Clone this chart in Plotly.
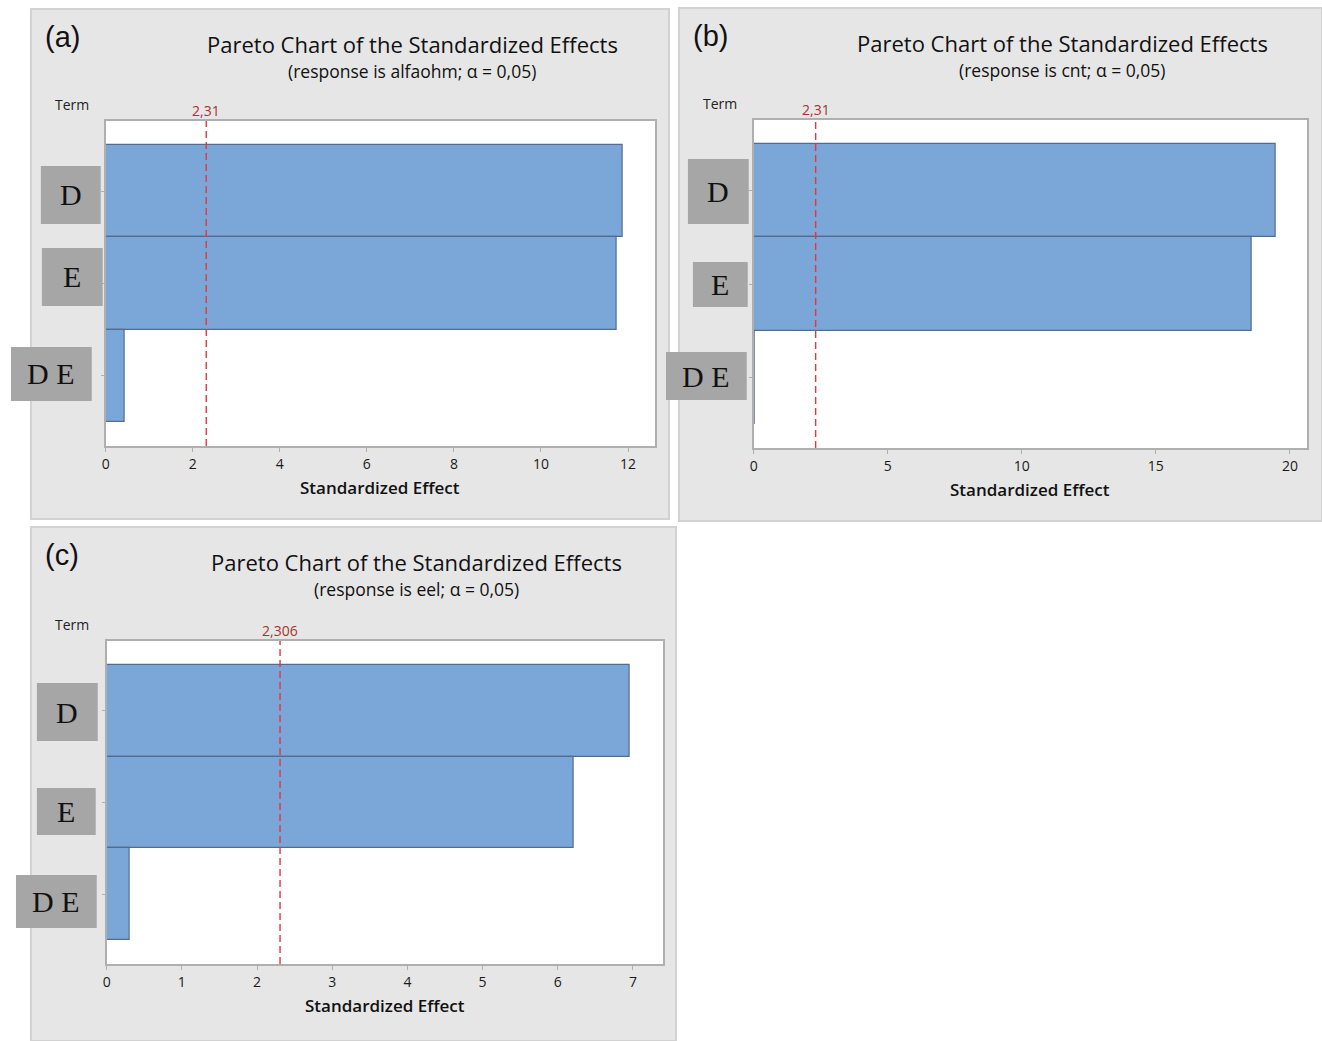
import plotly.graph_objects as go

# ---- data -------------------------------------------------------------
terms = ["D", "E", "D E"]
effects_alfaohm = [11.88, 11.74, 0.43]
effects_cnt = [19.46, 18.57, 0.05]
effects_eel = [6.96, 6.21, 0.30]
critical_values = [2.31, 2.31, 2.306]
critical_labels = ["2,31", "2,31", "2,306"]
responses = ["alfaohm", "cnt", "eel"]
panel_tags = ["(a)", "(b)", "(c)"]
x_max = [12.62, 20.64, 7.40]
x_dtick = [2, 5, 1]

# ---- page geometry (pixels) --------------------------------------------
W, H = 1322, 1041


def fx(x):
    return x / W


def fy(y):
    return 1 - y / H


# panel background boxes: x0, y0, x1, y1
panel_boxes = [(27, 9, 667, 519), (677, 8, 1322, 521), (27, 527, 674, 1041)]
# plot areas: x0, y0, x1, y1
plot_areas = [(102, 121, 653, 446), (752, 120, 1307, 448), (103, 641, 661, 964)]
# grey term-label tiles per panel: (x0, y0, x1, y1)
term_tiles = [
    [(37, 166, 97, 224), (38, 248, 99, 306), (7, 347, 88, 401)],
    [(686, 159, 747, 224), (691, 262, 746, 307), (664, 352, 745, 400)],
    [(33, 683, 94, 741), (33, 788, 92, 835), (12, 875, 93, 928)],
]

BAR_FILL = "#7BA6D8"
BAR_EDGE = "#536C8E"
PANEL_BG = "#E6E6E6"
PANEL_EDGE = "#D2D2D2"
FRAME = "#AFAFAF"
REF_LINE = "#E8353B"
REF_TEXT = "#A8322D"
UI_FONT = "Open Sans"

fig = go.Figure()
shapes = []
annotations = []

all_effects = [effects_alfaohm, effects_cnt, effects_eel]

for i in range(3):
    suffix = "" if i == 0 else str(i + 1)
    xa, ya = "x" + suffix, "y" + suffix
    bx0, by0, bx1, by1 = panel_boxes[i]
    px0, py0, px1, py1 = plot_areas[i]
    plot_mid = (px0 + px1) / 2
    title_mid = plot_mid + 32

    # panel background
    shapes.append(dict(type="rect", xref="paper", yref="paper",
                       x0=fx(bx0), x1=fx(bx1), y0=fy(by1), y1=fy(by0),
                       fillcolor=PANEL_BG, line=dict(color=PANEL_EDGE, width=2),
                       layer="below"))
    # white plotting area
    shapes.append(dict(type="rect", xref=xa + " domain", yref=ya + " domain",
                       x0=0, x1=1, y0=0, y1=1, fillcolor="white",
                       line=dict(width=0), layer="below"))

    fig.add_trace(go.Bar(
        x=all_effects[i], y=terms, orientation="h", width=1,
        marker=dict(color=BAR_FILL, line=dict(color=BAR_EDGE, width=1.2)),
        xaxis=xa, yaxis=ya, showlegend=False, hoverinfo="x+y",
    ))

    # critical value reference line
    crit = critical_values[i]
    shapes.append(dict(type="line", xref=xa, yref=ya + " domain",
                       x0=crit, x1=crit, y0=0, y1=1.0,
                       line=dict(color=REF_LINE, width=1.4, dash="7px,4px"),
                       layer="above"))
    annotations.append(dict(xref=xa, yref=ya + " domain", x=crit, y=1.0,
                            text=critical_labels[i], showarrow=False,
                            yanchor="bottom", yshift=-1,
                            font=dict(family=UI_FONT, size=14, color=REF_TEXT)))

    # axes
    layout_x = dict(domain=[fx(px0), fx(px1)], range=[0, x_max[i]],
                    tick0=0, dtick=x_dtick[i], showgrid=False, zeroline=False,
                    showline=True, mirror=True, linecolor=FRAME, linewidth=1.5,
                    ticks="outside", ticklen=4, tickcolor=FRAME,
                    tickfont=dict(family=UI_FONT, size=14, color="#1A1A1A"),
                    anchor=ya, fixedrange=True)
    layout_y = dict(domain=[fy(py1), fy(py0)], type="category",
                    categoryorder="array", categoryarray=terms,
                    range=[2.76, -0.76], showgrid=False, zeroline=False,
                    showline=True, mirror=True, linecolor=FRAME, linewidth=1.5,
                    ticks="outside", ticklen=3, tickcolor=FRAME,
                    showticklabels=False, anchor=xa, fixedrange=True)
    fig.update_layout(**{"xaxis" + suffix: layout_x, "yaxis" + suffix: layout_y})

    # titles
    annotations.append(dict(xref="paper", yref="paper", x=fx(title_mid),
                            y=fy(by0 + 35), text="Pareto Chart of the Standardized Effects",
                            showarrow=False, xanchor="center", yanchor="middle",
                            font=dict(family=UI_FONT, size=22, color="#111111",
                                      weight=500)))
    annotations.append(dict(xref="paper", yref="paper", x=fx(title_mid),
                            y=fy(by0 + 62),
                            text="(response is %s; \u03b1 = 0,05)" % responses[i],
                            showarrow=False, xanchor="center", yanchor="middle",
                            font=dict(family=UI_FONT, size=17.5, color="#111111",
                                      weight=500)))
    # panel tag
    annotations.append(dict(xref="paper", yref="paper", x=fx(bx0 + 12), y=fy(by0 + 28),
                            text=panel_tags[i], showarrow=False,
                            xanchor="left", yanchor="middle",
                            font=dict(family="Liberation Sans", size=29, color="#111111")))
    # "Term" header
    annotations.append(dict(xref="paper", yref="paper", x=fx(bx0 + 41), y=fy(py0 - 17),
                            text="Term", showarrow=False, xanchor="center",
                            yanchor="middle",
                            font=dict(family=UI_FONT, size=14, color="#222222")))
    # x-axis title
    annotations.append(dict(xref="paper", yref="paper", x=fx(plot_mid),
                            y=fy(py1 + 41), text="Standardized Effect",
                            showarrow=False, xanchor="center", yanchor="middle",
                            font=dict(family=UI_FONT, size=17, color="#111111",
                                      weight=600)))
    # grey term tiles
    for t, (tx0, ty0, tx1, ty1) in zip(terms, term_tiles[i]):
        shapes.append(dict(type="rect", xref="paper", yref="paper",
                           x0=fx(tx0), x1=fx(tx1), y0=fy(ty1), y1=fy(ty0),
                           fillcolor="#A6A6A6", line=dict(width=0), layer="above"))
        annotations.append(dict(xref="paper", yref="paper",
                                x=fx((tx0 + tx1) / 2), y=fy((ty0 + ty1) / 2),
                                text=t, showarrow=False, xanchor="center",
                                yanchor="middle",
                                font=dict(family="Liberation Serif", size=30,
                                          color="#111111")))

fig.update_layout(
    width=W, height=H,
    margin=dict(l=0, r=0, t=0, b=0),
    paper_bgcolor="white", plot_bgcolor="white",
    bargap=0, shapes=shapes, annotations=annotations,
    showlegend=False,
)

fig.write_html("out.html", config={"displayModeBar": False})
